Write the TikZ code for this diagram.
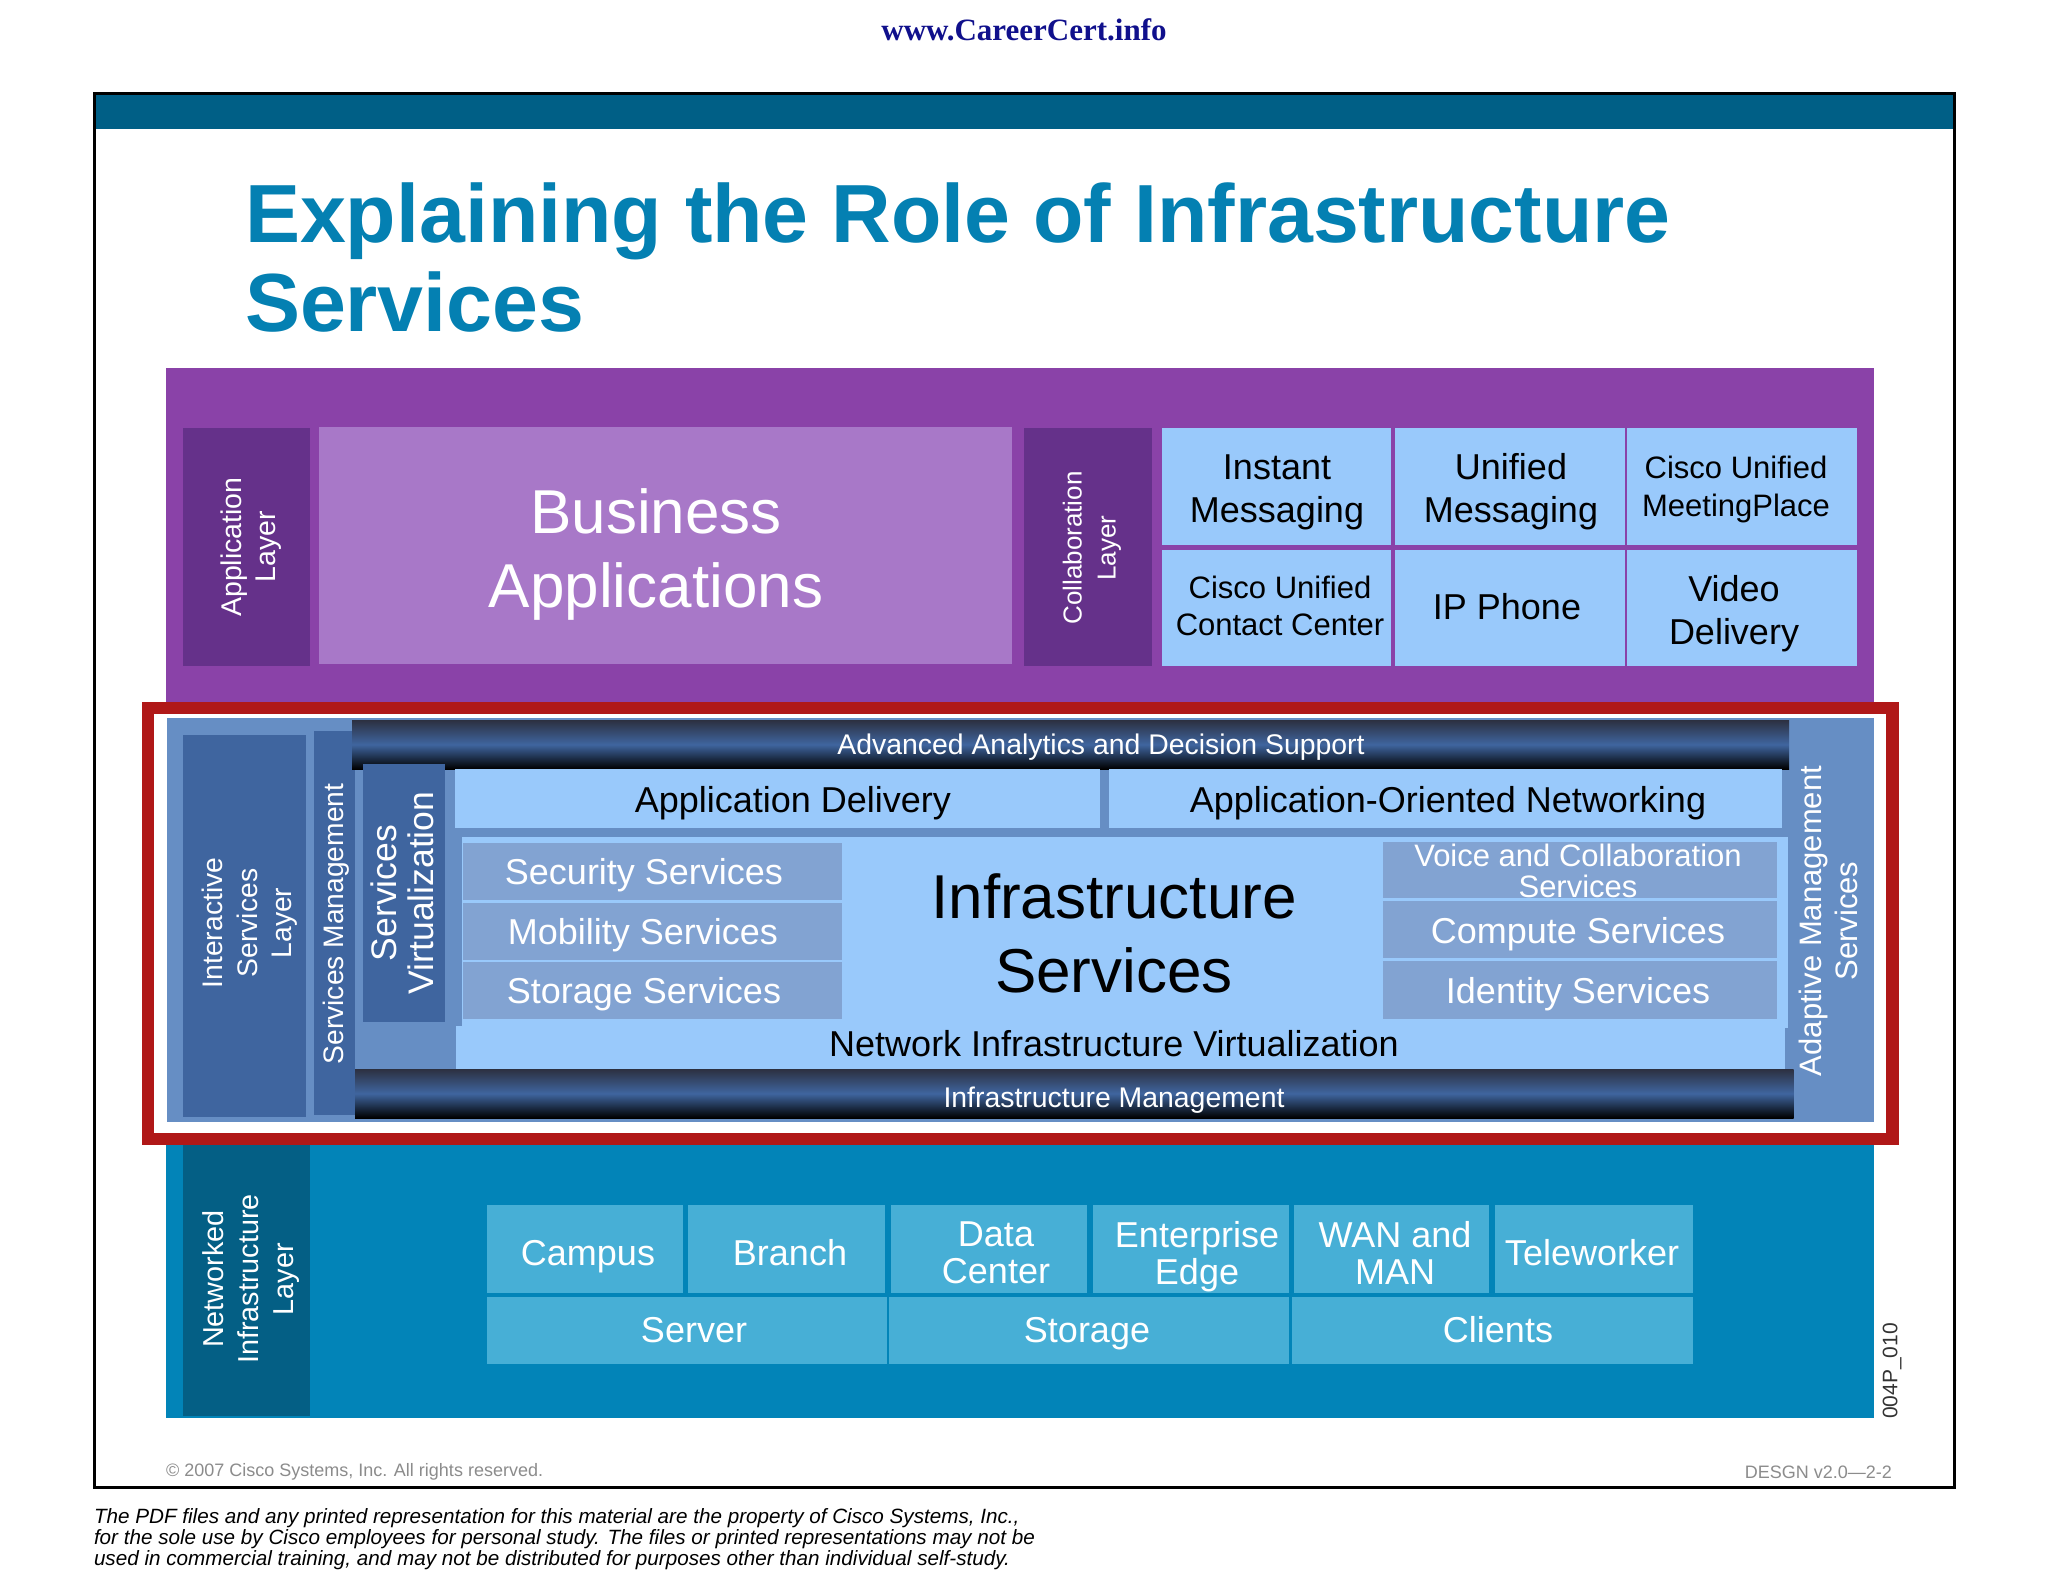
\documentclass[tikz,border=0pt]{standalone}
\usepackage{fontspec}
\setmainfont{Liberation Sans}
\newfontfamily\urlfont{Liberation Serif}
\definecolor{barteal}{HTML}{005F86}
\definecolor{titleblue}{HTML}{0480B2}
\definecolor{urlblue}{HTML}{10108C}
\definecolor{purpleband}{HTML}{8A42A8}
\definecolor{purpledark}{HTML}{65318A}
\definecolor{purplelight}{HTML}{A878C8}
\definecolor{skyblue}{HTML}{99C9FB}
\definecolor{midblue}{HTML}{668EC4}
\definecolor{deepblue}{HTML}{3F659F}
\definecolor{greyblue}{HTML}{82A3D2}
\definecolor{seablue}{HTML}{0284B8}
\definecolor{seadark}{HTML}{045F85}
\definecolor{sealight}{HTML}{47AFD6}
\definecolor{alertred}{HTML}{B01818}
\definecolor{barslate}{HTML}{2C3040}
\newcommand{\sz}[2]{\fontsize{#1}{#2}\selectfont}
\tikzset{
	caption/.style={inner sep=0pt, outer sep=0pt, align=center},
	sidelabel/.style={caption, rotate=90, text=white},
	skytext/.style={caption, text=black, font=\sz{36}{43}},
	greytext/.style={caption, text=white, font=\sz{36}{43}},
	seatext/.style={caption, text=white, font=\sz{36}{37}},
	bartext/.style={caption, text=white, font=\sz{28.4}{34}},
	darkbar/.style={top color=barslate, bottom color=black, middle color=deepblue},
}

\begin{document}
\begin{tikzpicture}[x=1pt,y=-1pt]
	\useasboundingbox (0,0) rectangle (2048,1582);
	\fill[white] (0,0) rectangle (2048,1582);
	\node (url) [caption, text=urlblue, font=\urlfont\bfseries\sz{31}{36}] at (1024,30) {www.CareerCert.info};

	% slide frame
	\fill[barteal] (94,93) rectangle (1954,129);
	\draw[black, line width=3] (94,93) rectangle (1954,1487);
	\node (title) [caption, align=left, anchor=north west, text=titleblue, font=\bfseries\sz{82.5}{89}] at (245,183) {Explaining the Role of Infrastructure\\Services};

	% application and collaboration
	\fill[purpleband] (166,368) rectangle (1874,720);
	\fill[purpledark] (183,428) rectangle (310,666);
	\fill[purplelight] (319,427) rectangle (1012,664);
	\fill[purpledark] (1024,428) rectangle (1152,666);
	\fill[skyblue] (1162,428) rectangle (1391,545);
	\fill[skyblue] (1395,428) rectangle (1625,545);
	\fill[skyblue] (1627,428) rectangle (1857,545);
	\fill[skyblue] (1162,550) rectangle (1391,666);
	\fill[skyblue] (1395,550) rectangle (1625,666);
	\fill[skyblue] (1627,550) rectangle (1857,666);
	\node (applayer) [sidelabel, font=\sz{28.5}{34}] at (251,547) {Application\\Layer};
	\node (business) [caption, text=white, font=\sz{62}{74}] at (656,554) {Business\\Applications};
	\node (collablayer) [sidelabel, font=\sz{26}{34}] at (1092,548) {Collaboration\\Layer};
	\node (instant) [skytext] at (1277,492) {Instant\\Messaging};
	\node (unified) [skytext] at (1511,492) {Unified\\Messaging};
	\node (meeting) [skytext, font=\sz{31}{38}] at (1736,489) {Cisco Unified\\MeetingPlace};
	\node (contact) [skytext, font=\sz{31}{37}] at (1280,606) {Cisco Unified\\Contact Center};
	\node (ipphone) [skytext] at (1507,607) {IP Phone};
	\node (video) [skytext] at (1734,614) {Video\\Delivery};

	% interactive services
	\draw[alertred, fill=white, line width=12.5] (148,708) rectangle (1892.5,1139);
	\fill[midblue] (167,718) rectangle (1874,1122);
	\fill[deepblue] (182.5,735) rectangle (306,1117);
	\fill[deepblue] (314,731) rectangle (354.5,1115);
	\shade[darkbar] (352,720) rectangle (1789,769);
	\fill[skyblue] (454.5,769) rectangle (1100,828);
	\fill[skyblue] (1109,769) rectangle (1782,828);
	\fill[skyblue] (462,837) rectangle (1788,1028);
	\fill[skyblue] (455.5,1026) rectangle (1785,1069);
	\fill[deepblue] (363,764) rectangle (445,1022);
	\fill[greyblue] (463,843) rectangle (842,900);
	\fill[greyblue] (463,903) rectangle (842,960);
	\fill[greyblue] (463,962) rectangle (842,1019);
	\fill[greyblue] (1383,842) rectangle (1777,898);
	\fill[greyblue] (1383,901) rectangle (1777,958);
	\fill[greyblue] (1383,961) rectangle (1777,1019);
	\shade[darkbar] (355,1069) rectangle (1793.5,1118);
	\node (interactive) [sidelabel, font=\sz{28.3}{34.6}] at (250,923) {Interactive\\Services\\Layer};
	\node (svcmgmt) [sidelabel, font=\sz{28.2}{34}] at (336,924) {Services Management};
	\node (analytics) [bartext] at (1101,747) {Advanced Analytics and Decision Support};
	\node (appdelivery) [skytext] at (793,803) {Application Delivery};
	\node (aon) [skytext] at (1448,803) {Application-Oriented Networking};
	\node (netvirt) [skytext] at (1114,1044) {Network Infrastructure Virtualization};
	\node (infra) [caption, text=black, font=\sz{62}{74}] at (1114,933) {Infrastructure\\Services};
	\node (virt) [sidelabel, font=\sz{35.5}{37}] at (402,893) {Services\\Virtualization};
	\node (security) [greytext] at (644,875) {Security Services};
	\node (mobility) [greytext] at (643,935) {Mobility Services};
	\node (storagesvc) [greytext] at (644,994) {Storage Services};
	\node (voice) [greytext, font=\sz{31}{31}] at (1578,871) {Voice and Collaboration\\Services};
	\node (compute) [greytext] at (1578,934) {Compute Services};
	\node (identity) [greytext] at (1578,994) {Identity Services};
	\node (inframgmt) [bartext] at (1114,1100) {Infrastructure Management};
	\node (adaptive) [sidelabel, font=\sz{31}{36}] at (1828,921) {Adaptive Management\\Services};

	% networked infrastructure
	\fill[seablue] (166,1145) rectangle (1874,1418);
	\fill[seadark] (183,1145) rectangle (310,1416);
	\fill[sealight] (487,1205) rectangle (683,1293);
	\fill[sealight] (688,1205) rectangle (885,1293);
	\fill[sealight] (891,1205) rectangle (1087,1293);
	\fill[sealight] (1093,1205) rectangle (1289,1293);
	\fill[sealight] (1294,1205) rectangle (1489,1293);
	\fill[sealight] (1495,1205) rectangle (1693,1293);
	\fill[sealight] (487,1297) rectangle (887,1364);
	\fill[sealight] (889,1297) rectangle (1289,1364);
	\fill[sealight] (1292,1297) rectangle (1693,1364);
	\node (networked) [sidelabel, font=\sz{28.8}{34.6}] at (251,1279) {Networked\\Infrastructure\\Layer};
	\node (campus) [seatext] at (588,1257) {Campus};
	\node (branch) [seatext] at (790,1253) {Branch};
	\node (datacenter) [seatext] at (996,1253) {Data\\Center};
	\node (edge) [seatext] at (1197,1257) {Enterprise\\Edge};
	\node (wan) [seatext] at (1395,1253) {WAN and\\MAN};
	\node (teleworker) [seatext] at (1592,1253) {Teleworker};
	\node (server) [seatext] at (694,1330) {Server};
	\node (storage) [seatext] at (1087,1334) {Storage};
	\node (clients) [seatext] at (1498,1330) {Clients};
	\node (figcode) [caption, rotate=90, font=\sz{21}{24}, text=black!80] at (1892,1371) {004P\_010};

	% footers
	\node (copyright) [caption, anchor=west, text=black!45, font=\sz{18}{22}] at (166,1472) {© 2007 Cisco Systems, Inc. All rights reserved.};
	\node (course) [caption, anchor=east, text=black!45, font=\sz{18}{22}] at (1892,1472) {DESGN v2.0—2-2};
	\node (notice) [caption, align=left, anchor=north west, text=black, font=\itshape\sz{20.66}{21}] at (94,1509) {The PDF files and any printed representation for this material are the property of Cisco Systems, Inc.,\\for the sole use by Cisco employees for personal study. The files or printed representations may not be\\used in commercial training, and may not be distributed for purposes other than individual self-study.};
\end{tikzpicture}
\end{document}
